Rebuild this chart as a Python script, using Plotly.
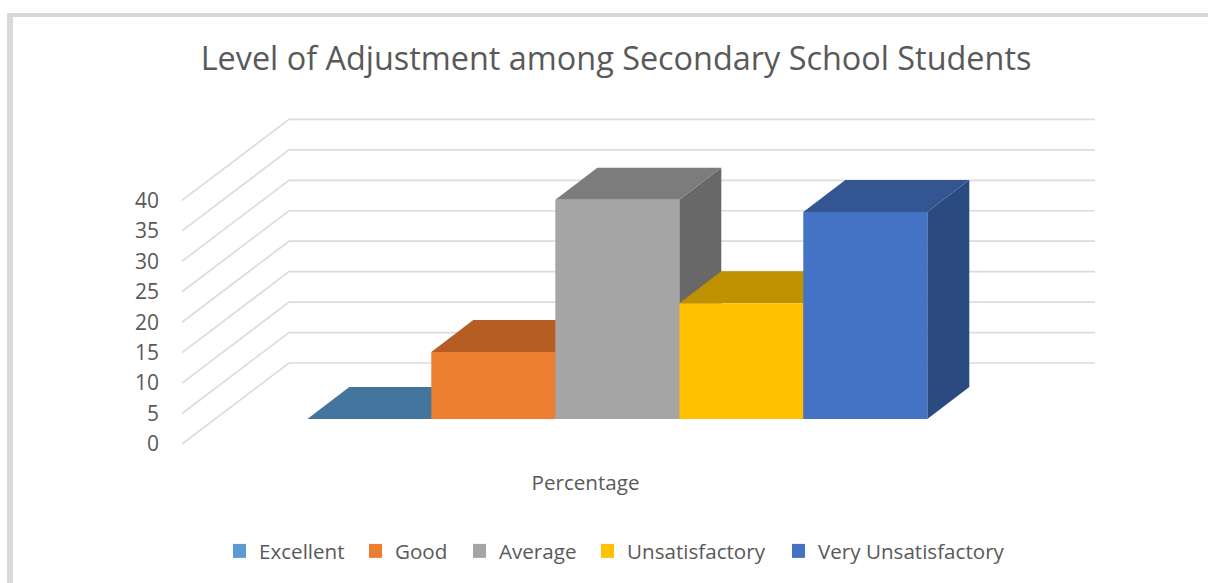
import plotly.graph_objects as go

TITLE = "Level of Adjustment among Secondary School Students"
CATEGORIES = ["Excellent", "Good", "Average", "Unsatisfactory", "Very Unsatisfactory"]
VALUES = [0, 11, 36, 19, 34]
GROUP_LABEL = "Percentage"
VALUE_TICKS = [0, 5, 10, 15, 20, 25, 30, 35, 40]
LEGEND_COLORS = ["#5B9BD5", "#ED7D31", "#A5A5A5", "#FFC000", "#4472C4"]
FRONT_COLORS = ["#5B9BD5", "#ED7D31", "#A5A5A5", "#FFC000", "#4472C4"]
TOP_COLORS = ["#44759F", "#B55D22", "#7C7C7C", "#BF9000", "#335592"]
SIDE_COLORS = ["#3A628A", "#974E1D", "#686868", "#A07900", "#2B4A80"]

W, H = 1208, 583
L, R, T, B = 160, 1204, 90, 465
PX_X, PX_Y = 124.0, 6.09
X0_PX, Y0_PX = 307.3, 444.0

FONT = "Open Sans"
TXT = "#595959"
GRID = "#DCDCDC"

def xu(px):
    return (px - X0_PX) / PX_X

def yu(dpx):
    return dpx / PX_Y

BAR_BASE = yu(25)
DEPTH_X, DEPTH_Y = 42 / PX_X, yu(32)
WALL_X0, WALL_X1, WALL_DY = xu(289), xu(1095), yu(81)
DIAG_X0 = xu(182)

fig = go.Figure()

gx, gy = [], []
for v in VALUE_TICKS:
    gx += [DIAG_X0, WALL_X0, WALL_X1, None]
    gy += [v, v + WALL_DY, v + WALL_DY, None]
fig.add_trace(go.Scatter(x=gx, y=gy, mode="lines", line=dict(color=GRID, width=1.7),
                         showlegend=False, hoverinfo="skip"))

def poly(xs, ys, color):
    fig.add_trace(go.Scatter(x=xs + [xs[0]], y=ys + [ys[0]], mode="none", fill="toself",
                             fillcolor=color, showlegend=False, hoverinfo="skip"))

for i, val in enumerate(VALUES):
    x0, x1 = i, i + 1
    b, t = BAR_BASE, BAR_BASE + val
    poly([x1, x1 + DEPTH_X, x1 + DEPTH_X, x1], [b, b + DEPTH_Y, t + DEPTH_Y, t], SIDE_COLORS[i])
    poly([x0, x1, x1 + DEPTH_X, x0 + DEPTH_X], [t, t, t + DEPTH_Y, t + DEPTH_Y], TOP_COLORS[i])
    if val > 0:
        poly([x0, x1, x1, x0], [b, b, t, t], FRONT_COLORS[i])

LEGEND_PX = [233, 369, 473, 601, 792]
layout_legends = {}
for i, name in enumerate(CATEGORIES):
    key = "legend" if i == 0 else f"legend{i + 1}"
    fig.add_trace(go.Scatter(x=[None], y=[None], mode="markers", name=name, legend=key,
                             marker=dict(symbol="square", size=14, color=LEGEND_COLORS[i])))
    layout_legends[key] = dict(
        x=LEGEND_PX[i] / W, y=1 - 551 / H, xref="container", yref="container",
        xanchor="left", yanchor="middle", orientation="h", bgcolor="rgba(0,0,0,0)",
        font=dict(family=FONT, size=20.6, color=TXT), indentation=-14)

fig.update_layout(
    width=W, height=H, autosize=False,
    margin=dict(l=L, r=W - R, t=T, b=H - B),
    paper_bgcolor="white", plot_bgcolor="white",
    title=dict(text=TITLE, x=616 / W, xanchor="center", y=1 - 59 / H, yanchor="middle",
               font=dict(family=FONT, size=32.4, color=TXT)),
    xaxis=dict(range=[xu(L), xu(R)], tickmode="array", tickvals=[xu(585.5)], ticktext=[GROUP_LABEL],
               showgrid=False, zeroline=False, showline=False, ticks="", ticklen=0, ticklabelstandoff=3,
               tickfont=dict(family=FONT, size=20.6, color=TXT)),
    yaxis=dict(range=[yu(Y0_PX - B), yu(Y0_PX - T)], tickmode="array", tickvals=VALUE_TICKS,
               showgrid=False, zeroline=False, showline=False, ticks="",
               tickfont=dict(family=FONT, size=21, color=TXT)),
    shapes=[
        dict(type="rect", xref="paper", yref="paper", layer="below", line_width=0, fillcolor="#D9D9D9",
             x0=(7 - L) / (R - L), x1=(13 - L) / (R - L), y0=(B - H) / (B - T), y1=(B - 13) / (B - T)),
        dict(type="rect", xref="paper", yref="paper", layer="below", line_width=0, fillcolor="#D9D9D9",
             x0=(7 - L) / (R - L), x1=(W - L) / (R - L), y0=(B - 17) / (B - T), y1=(B - 13) / (B - T)),
    ],
    **layout_legends,
)

fig.write_html("out.html", config={"responsive": False, "displayModeBar": False},
               post_script="document.body.style.margin='0';document.body.style.overflow='hidden';")
